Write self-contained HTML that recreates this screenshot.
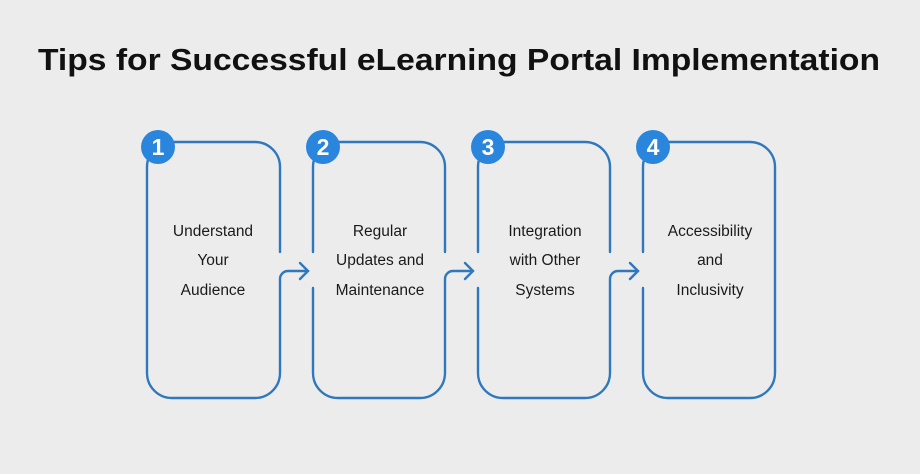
<!DOCTYPE html>
<html><head><style>
body{margin:0;background:#ececec;}
svg{display:block;}
</style></head><body>
<svg width="920" height="474" viewBox="0 0 920 474" xmlns="http://www.w3.org/2000/svg">
<rect width="920" height="474" fill="#ececec"/>
<text x="38" y="70" textLength="842" lengthAdjust="spacingAndGlyphs" font-family="Liberation Sans, sans-serif" font-weight="bold" font-size="31" fill="#111">Tips for Successful eLearning Portal Implementation</text>
<g fill="none" stroke="#2f78bd" stroke-width="2.4" stroke-linecap="round">
  <path d="M280,252 V167 A25,25 0 0 0 255,142 H172 A25,25 0 0 0 147,167 V373 A25,25 0 0 0 172,398 H255 A25,25 0 0 0 280,373 V279 A8,8 0 0 1 288,271 H308"/>
  <path d="M300,263 L308,271 L300,279"/>
  <path d="M313,252 V167 A25,25 0 0 1 338,142 H420 A25,25 0 0 1 445,167 V252"/>
  <path d="M313,288 V373 A25,25 0 0 0 338,398 H420 A25,25 0 0 0 445,373 V279 A8,8 0 0 1 453,271 H473"/>
  <path d="M465,263 L473,271 L465,279"/>
  <path d="M478,252 V167 A25,25 0 0 1 503,142 H585 A25,25 0 0 1 610,167 V252"/>
  <path d="M478,288 V373 A25,25 0 0 0 503,398 H585 A25,25 0 0 0 610,373 V279 A8,8 0 0 1 618,271 H638"/>
  <path d="M630,263 L638,271 L630,279"/>
  <path d="M643,252 V167 A25,25 0 0 1 668,142 H750 A25,25 0 0 1 775,167 V373 A25,25 0 0 1 750,398 H668 A25,25 0 0 1 643,373 V288"/>
</g>
<g fill="#2a86dc">
  <circle cx="158" cy="147" r="17"/>
  <circle cx="323" cy="147" r="17"/>
  <circle cx="488" cy="147" r="17"/>
  <circle cx="653" cy="147" r="17"/>
</g>
<g font-family="Liberation Sans, sans-serif" font-weight="bold" font-size="23" fill="#fff" text-anchor="middle">
  <text x="158" y="155">1</text>
  <text x="323" y="155">2</text>
  <text x="488" y="155">3</text>
  <text x="653" y="155">4</text>
</g>
<g font-family="Liberation Sans, sans-serif" font-size="15.5" fill="#1a1a1a" text-anchor="middle">
  <text x="213" y="236">Understand</text>
  <text x="213" y="265">Your</text>
  <text x="213" y="295">Audience</text>
  <text x="380" y="236">Regular</text>
  <text x="380" y="265">Updates and</text>
  <text x="380" y="295">Maintenance</text>
  <text x="545" y="236">Integration</text>
  <text x="545" y="265">with Other</text>
  <text x="545" y="295">Systems</text>
  <text x="710" y="236">Accessibility</text>
  <text x="710" y="265">and</text>
  <text x="710" y="295">Inclusivity</text>
</g>
</svg>
</body></html>
